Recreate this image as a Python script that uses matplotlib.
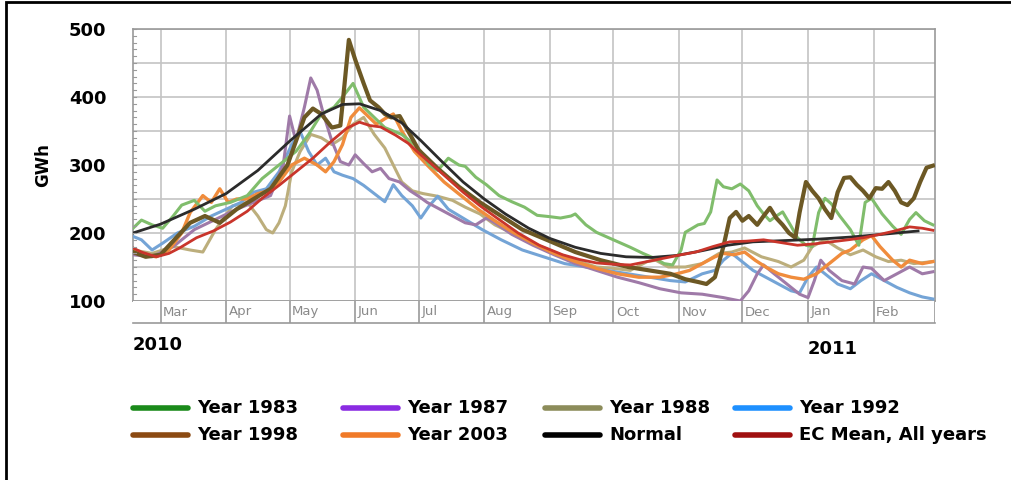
import numpy as np
import matplotlib
matplotlib.use("Agg")
import matplotlib.pyplot as plt
from matplotlib.lines import Line2D

# days are counted from 15 Feb 2010
START = np.datetime64("2010-02-15")

days_1983 = [1, 5, 10, 15, 20, 24, 30, 35, 40, 47, 55, 62, 70, 78, 84, 90, 96, 100, 105, 110,
             115, 120, 128, 134, 137, 141, 145, 150, 155, 158, 163, 168, 174, 180, 186, 192, 198,
             203, 208, 210, 215, 220, 228, 236, 242, 248, 252, 256, 260, 262, 268, 271, 274, 277,
             280, 284, 288, 292, 296, 299, 302, 305, 308, 312, 315, 319, 322, 325, 328, 331, 335,
             340, 344, 347, 350, 355, 360, 364, 368, 371, 375, 379]
gwh_1983 = [207, 219, 212, 207, 225, 241, 248, 232, 240, 245, 255, 280, 300, 320, 345, 375, 385,
            400, 420, 385, 370, 355, 345, 330, 320, 300, 292, 310, 300, 298, 282, 271, 255, 246,
            238, 226, 224, 222, 225, 228, 212, 201, 190, 179, 170, 162, 155, 153, 175, 201, 212,
            214, 231, 278, 268, 265, 272, 262, 240, 228, 218, 225, 231, 210, 193, 182, 180, 230,
            251, 243, 225, 205, 182, 245, 251, 228, 210, 198, 220, 230, 218, 212]

days_1987 = [1, 10, 20, 30, 40, 50, 58, 66, 72, 75, 78, 82, 85, 88, 91, 95, 99, 103, 106, 110,
             114, 118, 122, 127, 132, 136, 140, 146, 152, 158, 163, 168, 172, 180, 190, 200, 210,
             220, 230, 240, 250, 260, 270, 280, 288, 292, 296, 299, 304, 310, 316, 320, 323, 326,
             330, 336, 342, 346, 350, 356, 362, 368, 374, 379]
gwh_1987 = [168, 165, 180, 205, 220, 235, 245, 255, 300, 372, 335, 385, 428, 410, 375, 335, 305,
            300, 315, 302, 290, 295, 280, 275, 262, 254, 245, 235, 225, 215, 212, 222, 215, 198,
            182, 168, 155, 145, 135, 127, 118, 112, 110, 105, 100, 115, 140, 153, 140, 125, 110,
            105, 130, 160, 145, 130, 125, 150, 148, 130, 140, 150, 140, 143]

days_1988 = [1, 10, 20, 28, 34, 40, 48, 55, 60, 64, 67, 70, 73, 76, 80, 85, 90, 95, 100, 105,
             110, 115, 120, 124, 128, 133, 138, 145, 152, 158, 165, 172, 180, 190, 200, 210, 220,
             228, 236, 244, 248, 254, 262, 270, 278, 284, 290, 298, 306, 312, 318, 322, 328, 334,
             340, 346, 352, 358, 364, 370, 379]
gwh_1988 = [175, 170, 180, 175, 172, 205, 240, 245, 225, 205, 200, 215, 240, 290, 320, 345, 340,
            330, 340, 360, 370, 345, 325, 300, 275, 262, 258, 254, 248, 238, 228, 212, 200, 185,
            172, 160, 150, 148, 145, 158, 160, 150, 150, 155, 170, 172, 178, 165, 158, 150, 160,
            180, 190, 178, 168, 175, 165, 158, 160, 155, 158]

days_1992 = [1, 5, 10, 15, 22, 30, 38, 45, 52, 58, 64, 70, 76, 80, 84, 88, 92, 96, 100, 105,
             110, 115, 120, 124, 128, 133, 137, 141, 145, 150, 158, 166, 175, 185, 195, 205, 215,
             225, 235, 245, 255, 262, 270, 276, 280, 284, 288, 294, 300, 306, 312, 316, 320, 324,
             328, 334, 340, 345, 350, 356, 362, 368, 374, 379]
gwh_1992 = [195, 190, 175, 185, 200, 210, 225, 235, 245, 260, 265, 290, 330, 349, 320, 300, 310,
            290, 285, 280, 270, 258, 246, 271, 255, 240, 222, 240, 254, 235, 220, 205, 190, 175,
            165, 155, 150, 145, 140, 135, 130, 128, 140, 145, 160, 170, 160, 145, 135, 125, 115,
            112, 135, 150, 140, 125, 118, 130, 140, 130, 120, 112, 106, 103]

days_1998 = [1, 7, 14, 22, 28, 35, 42, 50, 58, 66, 74, 82, 86, 90, 95, 99, 101, 103, 106, 110,
             113, 117, 120, 123, 127, 131, 136, 145, 155, 165, 175, 185, 198, 210, 222, 235, 245,
             255, 262, 268, 272, 276, 280, 283, 286, 289, 292, 296, 299, 302, 305, 308, 311, 314,
             316, 319, 322, 325, 328, 331, 334, 337, 340, 343, 346, 349, 352, 355, 358, 361, 364,
             367, 370, 373, 376, 379]
gwh_1998 = [172, 165, 168, 195, 215, 225, 215, 235, 250, 265, 300, 370, 383, 375, 355, 358, 420,
            484, 455, 420, 395, 385, 375, 370, 372, 350, 322, 295, 268, 245, 225, 205, 188, 172,
            160, 150, 145, 140, 132, 128, 125, 135, 180, 222, 231, 218, 225, 212, 225, 237, 222,
            212, 200, 193, 230, 275, 262, 251, 235, 222, 260, 281, 282, 271, 262, 251, 266, 265,
            275, 262, 245, 241, 251, 275, 296, 299]

days_2003 = [1, 6, 12, 18, 24, 28, 34, 38, 42, 46, 50, 55, 60, 65, 70, 76, 82, 88, 92, 96, 100,
             104, 108, 112, 116, 120, 124, 128, 134, 140, 148, 156, 164, 172, 180, 190, 200, 210,
             220, 230, 240, 250, 258, 264, 270, 276, 280, 285, 290, 295, 300, 306, 312, 318, 324,
             330, 336, 340, 346, 350, 354, 360, 364, 368, 374, 379]
gwh_2003 = [175, 168, 165, 175, 200, 230, 255, 245, 265, 245, 250, 250, 258, 262, 275, 300, 310,
            300, 290, 305, 330, 370, 384, 372, 360, 368, 375, 350, 320, 300, 275, 255, 235, 218,
            202, 185, 170, 158, 148, 140, 135, 135, 140, 145, 155, 165, 170, 168, 172, 160, 150,
            140, 135, 132, 140, 155, 170, 175, 190, 196, 180, 160, 150, 160, 155, 158]

days_normal = [1, 14, 30, 45, 60, 75, 90, 100, 108, 118, 128, 137, 147, 157, 167, 177, 188, 198,
               210, 222, 234, 246, 258, 270, 282, 294, 310, 325, 340, 355, 372]
gwh_normal = [200, 213, 235, 258, 292, 335, 375, 389, 390, 380, 362, 336, 305, 275, 250, 228, 207,
              192, 179, 170, 165, 164, 167, 174, 182, 187, 189, 191, 194, 198, 203]

days_mean = [1, 5, 12, 18, 23, 31, 39, 47, 55, 62, 70, 78, 86, 94, 102, 108, 113, 118, 125, 131,
             137, 147, 157, 165, 173, 183, 193, 204, 212, 220, 228, 236, 244, 252, 260, 267, 275,
             283, 291, 299, 307, 315, 323, 331, 339, 346, 354, 361, 368, 374, 379]
gwh_mean = [178, 172, 165, 170, 178, 193, 203, 216, 232, 251, 270, 290, 310, 333, 354, 363, 358,
            356, 344, 332, 315, 288, 260, 240, 222, 200, 182, 168, 161, 156, 154, 153, 158, 163,
            168, 172, 180, 187, 188, 190, 186, 182, 184, 187, 190, 193, 198, 203, 209, 207, 204]

series = [
    (days_1988, gwh_1988, "#bcae7c", 2.2),
    (days_1992, gwh_1992, "#74a4d6", 2.2),
    (days_1987, gwh_1987, "#9f7aa8", 2.2),
    (days_2003, gwh_2003, "#f08c3c", 2.4),
    (days_1983, gwh_1983, "#80bd6c", 2.2),
    (days_1998, gwh_1998, "#6c5824", 3.0),
    (days_normal, gwh_normal, "#2b2b2b", 2.0),
    (days_mean, gwh_mean, "#c9352b", 2.0),
]

legend_labels = ["Year 1983", "Year 1987", "Year 1988", "Year 1992",
                 "Year 1998", "Year 2003", "Normal", "EC Mean, All years"]
legend_colors = ["#1a8a1a", "#8a2be2", "#8c8c5a", "#1e90ff",
                 "#8b4a12", "#f07a28", "#000000", "#a01010"]

month_names = ["Mar", "Apr", "May", "Jun", "Jul", "Aug", "Sep", "Oct", "Nov", "Dec", "Jan", "Feb"]
month_starts = np.arange(np.datetime64("2010-03"), np.datetime64("2011-03"))
month_days = (month_starts.astype("datetime64[D]") - START).astype(int)

X_MIN, X_MAX = 1, 380
GRID = "#c4c4c4"

fig = plt.figure(figsize=(10.11, 4.8), dpi=100)
ax = fig.add_axes([133 / 1011, 179 / 480, 802 / 1011, 272 / 480])

for d, v, c, lw in series:
    ax.plot(d, v, color=c, lw=lw, solid_joinstyle="round", zorder=3)

ax.set_xlim(X_MIN, X_MAX)
ax.set_ylim(100, 500)
ax.set_yticks(range(100, 501, 100))
ax.set_yticks(range(100, 501, 50), minor=True)
ax.set_xticks(month_days)
ax.set_xticklabels([])
ax.grid(True, which="both", axis="y", color=GRID, lw=1.2)
ax.grid(True, which="major", axis="x", color=GRID, lw=1.2)
ax.tick_params(axis="x", length=0)
ax.tick_params(axis="y", which="both", length=0, pad=19)
for lbl in ax.get_yticklabels():
    lbl.set_fontweight("bold")
    lbl.set_fontsize(13)
for s in ax.spines.values():
    s.set_color("#9a9a9a")
    s.set_linewidth(1.2)

# little dashes along the left spine
for val in range(100, 501, 10):
    ax.plot([X_MIN, X_MIN + 1.3], [val, val], color="#9a9a9a", lw=0.8, clip_on=False, zorder=4)

ax.set_ylabel("GWh", fontsize=12, fontweight="bold", labelpad=12)

# month band under the plot
band = fig.add_axes([133 / 1011, 157 / 480, 802 / 1011, 22 / 480])
band.set_xlim(X_MIN, X_MAX)
band.set_ylim(0, 1)
band.set_xticks([])
band.set_yticks([])
for side in ("left", "top", "right"):
    band.spines[side].set_visible(False)
band.spines["bottom"].set_color("#9a9a9a")
band.spines["bottom"].set_linewidth(1.2)
band.vlines(list(month_days) + [X_MAX], 0, 1, color="#9a9a9a", lw=1.2)
for d, name in zip(month_days, month_names):
    band.text(d + 1.2, 0.5, name, fontsize=9.5, color="#8a8a8a", va="center", ha="left")

fig.text(133 / 1011, 1 - 345 / 480, "2010", fontsize=13, fontweight="bold", va="center")
fig.text(808 / 1011, 1 - 349 / 480, "2011", fontsize=13, fontweight="bold", va="center")

# legend, two rows of four
col_x = [133, 343, 545, 735]
row_y = [408, 435]
for i, (lab, col) in enumerate(zip(legend_labels, legend_colors)):
    x0 = col_x[i % 4]
    y0 = 1 - row_y[i // 4] / 480
    fig.add_artist(Line2D([x0 / 1011, (x0 + 55) / 1011], [y0, y0], color=col, lw=4,
                          solid_capstyle="round", transform=fig.transFigure))
    fig.text((x0 + 64) / 1011, y0, lab, fontsize=13, fontweight="bold", va="center")

# frame on the left and top
fig.add_artist(Line2D([6 / 1011, 6 / 1011, 1], [0, 1 - 2 / 480, 1 - 2 / 480], color="black",
                      lw=2, solid_joinstyle="miter", transform=fig.transFigure))

fig.savefig("out.png", dpi=100)
